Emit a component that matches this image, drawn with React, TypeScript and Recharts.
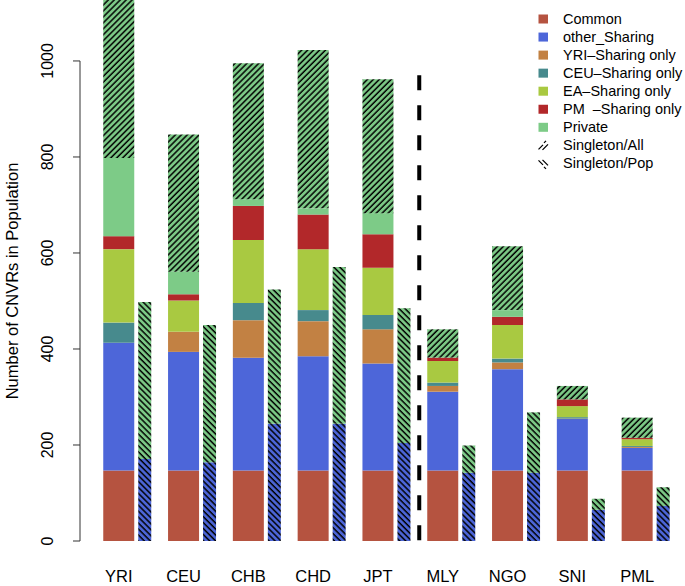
import { Bar, BarChart, ReferenceLine, XAxis, YAxis } from "recharts";

// populations in plotting order
const populations = ["YRI", "CEU", "CHB", "CHD", "JPT", "MLY", "NGO", "SNI", "PML"];

// wide bar segments (CNVR counts, bottom to top)
const common = [147, 147, 147, 147, 147, 147, 147, 147, 147];
const otherSharing = [266, 247, 235, 238, 223, 164, 211, 107, 47];
const yriSharing = [0, 42, 78, 73, 71, 12, 14, 1, 2];
const ceuSharing = [42, 0, 36, 23, 30, 7, 8, 3, 2];
const eaSharing = [153, 65, 131, 127, 98, 45, 70, 23, 14];
const pmSharing = [27, 13, 71, 72, 70, 7, 17, 14, 3];
const privateOnly = [163, 47, 14, 13, 44, 0, 14, 0, 0];
const singletonAll = [329, 286, 283, 330, 279, 59, 133, 28, 42];

// narrow bar segments
const singletonShared = [171, 164, 244, 244, 204, 142, 142, 65, 73];
const singletonPop = [327, 286, 280, 327, 281, 57, 126, 23, 39];

const yTicks = [0, 200, 400, 600, 800, 1000];

const COLORS = {
  common: "#b55340",
  other: "#4d66d9",
  yri: "#c28143",
  ceu: "#478a8d",
  ea: "#a9c941",
  pm: "#b2282a",
  priv: "#7dcb87",
};

const legendItems = [
  { label: "Common", color: COLORS.common },
  { label: "other_Sharing", color: COLORS.other },
  { label: "YRI\u2013Sharing only", color: COLORS.yri },
  { label: "CEU\u2013Sharing only", color: COLORS.ceu },
  { label: "EA\u2013Sharing only", color: COLORS.ea },
  { label: "PM\u00a0\u00a0\u2013Sharing only", color: COLORS.pm },
  { label: "Private", color: COLORS.priv },
];

const data = populations.map((pop, i) => ({
  pop,
  common: common[i],
  other: otherSharing[i],
  yri: yriSharing[i],
  ceu: ceuSharing[i],
  ea: eaSharing[i],
  pm: pmSharing[i],
  priv: privateOnly[i],
  singleAll: singletonAll[i],
  singleShared: singletonShared[i],
  singlePop: singletonPop[i],
}));

const FONT = '"Liberation Sans", Arial, Helvetica, sans-serif';

function PopTick({ x, y, payload }: any) {
  return (
    <text x={x - 8.9} y={y + 41} textAnchor="middle" fontSize={16.5} fill="#000" fontFamily={FONT}>
      {payload.value}
    </text>
  );
}

function CountTick({ x, y, payload }: any) {
  const tx = x - 27;
  return (
    <g>
      <line x1={x - 7} x2={x} y1={y} y2={y} stroke="#333" strokeWidth={1} />
      <text
        x={tx}
        y={y}
        transform={`rotate(-90 ${tx} ${y})`}
        textAnchor="middle"
        fontSize={16}
        fill="#000"
        fontFamily={FONT}
      >
        {payload.value}
      </text>
    </g>
  );
}

function AxisTitle() {
  return (
    <text
      x={18}
      y={281}
      transform="rotate(-90 18 281)"
      textAnchor="middle"
      fontSize={16.5}
      fill="#000"
      fontFamily={FONT}
    >
      Number of CNVRs in Population
    </text>
  );
}

function Legend() {
  const top = 19;
  const step = 18.05;
  const yAll = top + 7 * step;
  const yPop = top + 8 * step;
  return (
    <svg width={685} height={586} style={{ position: "absolute", left: 0, top: 0, pointerEvents: "none" }}>
      {legendItems.map((item, i) => (
        <g key={item.label}>
          <rect x={538.5} y={top + i * step - 4.5} width={9.5} height={9} fill={item.color} />
          <text x={563} y={top + i * step + 5} fontSize={14.5} fill="#000" fontFamily={FONT}>
            {item.label}
          </text>
        </g>
      ))}
      <path
        d={`M538.5 ${yAll + 4} L543 ${yAll - 0.5} M542.5 ${yAll + 4.5} L548 ${yAll - 1} M544 ${yAll - 2.5} L546 ${yAll - 4.5}`}
        stroke="#000"
        strokeWidth={1.3}
      />
      <text x={563} y={yAll + 5} fontSize={14.5} fill="#000" fontFamily={FONT}>
        Singleton/All
      </text>
      <path
        d={`M538.5 ${yPop - 3} L543 ${yPop + 1.5} M542.5 ${yPop - 3.5} L548 ${yPop + 2} M544 ${yPop + 3.5} L546 ${yPop + 5.5}`}
        stroke="#000"
        strokeWidth={1.3}
      />
      <text x={563} y={yPop + 5} fontSize={14.5} fill="#000" fontFamily={FONT}>
        Singleton/Pop
      </text>
    </svg>
  );
}

export default function App() {
  return (
    <div style={{ position: "absolute", left: 0, top: 0, width: 685, height: 586, background: "#fff" }}>
      <BarChart
        width={685}
        height={586}
        data={data}
        margin={{ top: 0, right: 0, bottom: 0, left: 0 }}
        barGap={4}
      >
        <defs>
          <pattern id="hatchAll" patternUnits="userSpaceOnUse" width={4.2} height={10} patternTransform="rotate(45)">
            <rect width={4.2} height={10} fill={COLORS.priv} />
            <line x1={1} y1={0} x2={1} y2={10} stroke="#000" strokeWidth={1.5} />
          </pattern>
          <pattern id="hatchPopGreen" patternUnits="userSpaceOnUse" width={4.2} height={10} patternTransform="rotate(-45)">
            <rect width={4.2} height={10} fill={COLORS.priv} />
            <line x1={1} y1={0} x2={1} y2={10} stroke="#000" strokeWidth={1.5} />
          </pattern>
          <pattern id="hatchPopBlue" patternUnits="userSpaceOnUse" width={4.2} height={10} patternTransform="rotate(-45)">
            <rect width={4.2} height={10} fill={COLORS.other} />
            <line x1={1} y1={0} x2={1} y2={10} stroke="#000" strokeWidth={1.5} />
          </pattern>
        </defs>
        <XAxis
          dataKey="pop"
          axisLine={false}
          tickLine={false}
          tickSize={0}
          tickMargin={0}
          height={45}
          interval={0}
          padding={{ left: 15.25, right: 6.55 }}
          tick={<PopTick />}
        />
        <XAxis xAxisId="frame" type="number" domain={[0, 1]} hide />
        <YAxis
          domain={[0, "dataMax"]}
          ticks={yTicks}
          width={80}
          axisLine={false}
          tickLine={false}
          tickSize={0}
          tickMargin={0}
          tick={<CountTick />}
          label={<AxisTitle />}
        />
        <ReferenceLine
          xAxisId="frame"
          segment={[{ x: 0, y: 0 }, { x: 0, y: 1000 }]}
          stroke="#333"
          strokeWidth={1}
        />
        <Bar dataKey="common" stackId="pop" barSize={31} fill={COLORS.common} isAnimationActive={false} />
        <Bar dataKey="other" stackId="pop" barSize={31} fill={COLORS.other} isAnimationActive={false} />
        <Bar dataKey="yri" stackId="pop" barSize={31} fill={COLORS.yri} isAnimationActive={false} />
        <Bar dataKey="ceu" stackId="pop" barSize={31} fill={COLORS.ceu} isAnimationActive={false} />
        <Bar dataKey="ea" stackId="pop" barSize={31} fill={COLORS.ea} isAnimationActive={false} />
        <Bar dataKey="pm" stackId="pop" barSize={31} fill={COLORS.pm} isAnimationActive={false} />
        <Bar dataKey="priv" stackId="pop" barSize={31} fill={COLORS.priv} isAnimationActive={false} />
        <Bar dataKey="singleAll" stackId="pop" barSize={31} fill="url(#hatchAll)" isAnimationActive={false} />
        <Bar dataKey="singleShared" stackId="single" barSize={13} fill="url(#hatchPopBlue)" isAnimationActive={false} />
        <Bar dataKey="singlePop" stackId="single" barSize={13} fill="url(#hatchPopGreen)" isAnimationActive={false} />
        <ReferenceLine
          segment={[{ x: "JPT", y: 970 }, { x: "JPT", y: 0 }]}
          position="end"
          stroke="#000"
          strokeWidth={4}
          strokeDasharray="15 15"
        />
      </BarChart>
      <Legend />
    </div>
  );
}
